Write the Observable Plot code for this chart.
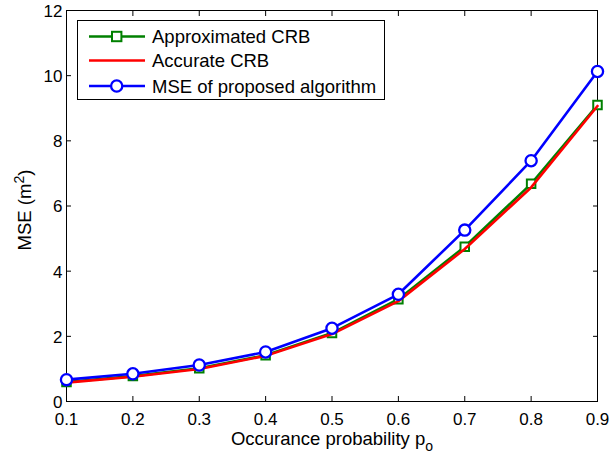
<!DOCTYPE html>
<html>
<head>
<meta charset="utf-8">
<script src="https://cdn.jsdelivr.net/npm/d3@7"></script>
<script src="https://cdn.jsdelivr.net/npm/@observablehq/plot@0.6"></script>
<style>
  html, body { margin: 0; padding: 0; background: #fff; }
  #wrap { position: relative; width: 611px; height: 458px; }
  #wrap svg { position: absolute; left: 0; top: 0; }
</style>
</head>
<body>
<div id="wrap"></div>
<script>
const probs = [0.1, 0.2, 0.3, 0.4, 0.5, 0.6, 0.7, 0.8, 0.9];
const approxCRB = [0.60, 0.78, 1.02, 1.42, 2.10, 3.14, 4.75, 6.68, 9.10];
const accurateCRB = [0.58, 0.76, 1.00, 1.40, 2.07, 3.08, 4.68, 6.57, 9.07];
const mseProposed = [0.67, 0.85, 1.12, 1.52, 2.25, 3.29, 5.26, 7.39, 10.13];
const xTicks = [0.1, 0.2, 0.3, 0.4, 0.5, 0.6, 0.7, 0.8, 0.9];
const yTicks = [0, 2, 4, 6, 8, 10, 12];
const seriesNames = ["Approximated CRB", "Accurate CRB", "MSE of proposed algorithm"];

const toRows = (vals) => probs.map((p, i) => ({p, v: vals[i]}));
const green = toRows(approxCRB), red = toRows(accurateCRB), blue = toRows(mseProposed);

const font = "'Liberation Sans', Arial, Helvetica, sans-serif";

const chart = Plot.plot({
  width: 611,
  height: 458,
  marginLeft: 66,
  marginRight: 14,
  marginTop: 10,
  marginBottom: 57,
  style: {fontFamily: font, fontSize: "17px", color: "#000", background: "transparent"},
  x: {domain: [0.1, 0.9], ticks: xTicks, label: null},
  y: {domain: [0, 12], ticks: yTicks, label: null},
  marks: [
    Plot.frame({stroke: "#000", strokeWidth: 1}),
    Plot.axisX({anchor: "bottom", ticks: xTicks, tickSize: 0, tickPadding: 11, tickFormat: d3.format(".1f"), fontSize: 17}),
    Plot.axisX({anchor: "bottom", ticks: xTicks, tickSize: -5, tickFormat: () => ""}),
    Plot.axisX({anchor: "top", ticks: xTicks, tickSize: -5, tickFormat: () => ""}),
    Plot.axisY({anchor: "left", ticks: yTicks, tickSize: 0, tickPadding: 4, fontSize: 17, dy: 1}),
    Plot.axisY({anchor: "left", ticks: yTicks, tickSize: -5, tickFormat: () => ""}),
    Plot.axisY({anchor: "right", ticks: yTicks, tickSize: -5, tickFormat: () => ""}),
    Plot.line(green, {x: "p", y: "v", stroke: "#008000", strokeWidth: 2.6}),
    Plot.dot(green, {x: "p", y: "v", symbol: "square", r: 4.8, stroke: "#008000", strokeWidth: 2, fill: "#fff"}),
    Plot.line(red, {x: "p", y: "v", stroke: "#ff0000", strokeWidth: 2.6}),
    Plot.line(blue, {x: "p", y: "v", stroke: "#0000ff", strokeWidth: 2.6}),
    Plot.dot(blue, {x: "p", y: "v", symbol: "circle", r: 5.6, stroke: "#0000ff", strokeWidth: 2.3, fill: "#fff"})
  ]
});
document.getElementById("wrap").appendChild(chart);

// Overlay: legend and axis labels
const svg = d3.select("#wrap").append("svg")
  .attr("width", 611).attr("height", 458)
  .style("font-family", font);

const lg = svg.append("g");
lg.append("rect").attr("x", 77.5).attr("y", 20.5).attr("width", 307).attr("height", 79)
  .attr("fill", "#fff").attr("stroke", "#000").attr("stroke-width", 1);
const rowsY = [36.5, 60.5, 86];
const cols = ["#008000", "#ff0000", "#0000ff"];
seriesNames.forEach((name, i) => {
  const y = rowsY[i];
  lg.append("line").attr("x1", 89).attr("x2", 145).attr("y1", y).attr("y2", y)
    .attr("stroke", cols[i]).attr("stroke-width", 2.6);
  if (i === 0) {
    lg.append("rect").attr("x", 112).attr("y", y - 4.7).attr("width", 9.4).attr("height", 9.4)
      .attr("fill", "#fff").attr("stroke", cols[i]).attr("stroke-width", 2);
  } else if (i === 2) {
    lg.append("circle").attr("cx", 116.7).attr("cy", y).attr("r", 5.6)
      .attr("fill", "#fff").attr("stroke", cols[i]).attr("stroke-width", 2.3);
  }
  lg.append("text").attr("x", 152).attr("y", y).attr("dy", "0.36em")
    .attr("font-size", 18.5).attr("fill", "#000").text(name);
});

// x label
const xl = svg.append("text").attr("x", 332).attr("y", 445).attr("text-anchor", "middle")
  .attr("font-size", 18.5).attr("fill", "#000");
xl.append("tspan").text("Occurance probability p");
xl.append("tspan").attr("font-size", 14).attr("dy", 6).text("o");

// y label
const yl = svg.append("text").attr("transform", "translate(31,210) rotate(-90)")
  .attr("text-anchor", "middle").attr("font-size", 18.5).attr("fill", "#000");
yl.append("tspan").text("MSE (m");
yl.append("tspan").attr("font-size", 14).attr("dy", -7).text("2");
yl.append("tspan").attr("dy", 7).text(")");
</script>
</body>
</html>
